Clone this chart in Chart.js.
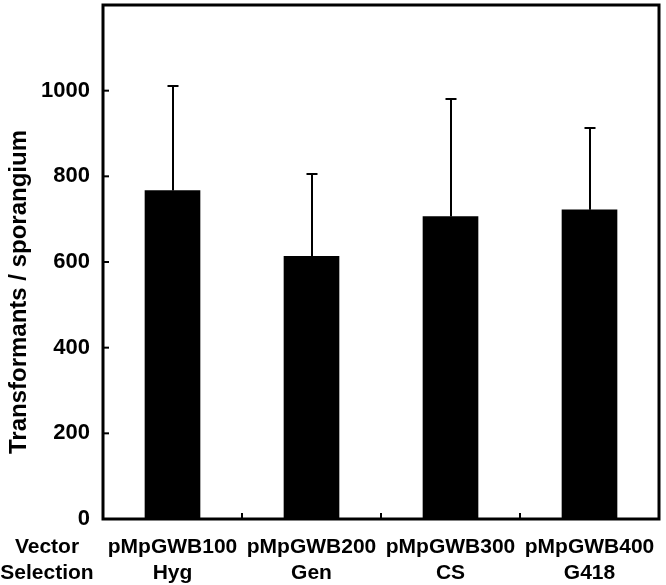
<!DOCTYPE html>
<html>
<head>
<meta charset="utf-8">
<script src="https://cdn.jsdelivr.net/npm/chart.js@4"></script>
<style>
html,body{margin:0;padding:0;background:#fff;}
#wrap{width:666px;height:585px;}
</style>
</head>
<body>
<div id="wrap"><canvas id="c" width="666" height="585"></canvas></div>
<script>
const vectors = ["pMpGWB100", "pMpGWB200", "pMpGWB300", "pMpGWB400"];
const selections = ["Hyg", "Gen", "CS", "G418"];
const means = [767, 613, 706, 722];
const errorTops = [1012, 805, 980, 914];
const rowTitles = ["Vector", "Selection"];
const yTitle = "Transformants / sporangium";
const yTicks = [0, 200, 400, 600, 800, 1000];

const FONT = '"Liberation Sans", Arial, Helvetica, sans-serif';

const extras = {
  id: 'extras',
  afterDatasetsDraw(chart) {
    const ctx = chart.ctx;
    const ca = chart.chartArea;
    const x = chart.scales.x, y = chart.scales.y;
    ctx.save();
    // error bars
    ctx.strokeStyle = '#000';
    ctx.lineWidth = 2;
    const meta = chart.getDatasetMeta(0);
    meta.data.forEach((bar, i) => {
      const cx = Math.round(bar.x);
      const yb = y.getPixelForValue(means[i]);
      const yt = Math.round(y.getPixelForValue(errorTops[i]));
      ctx.beginPath();
      ctx.moveTo(cx, yb);
      ctx.lineTo(cx, yt);
      ctx.moveTo(cx - 5.5, yt);
      ctx.lineTo(cx + 5.5, yt);
      ctx.stroke();
    });
    // frame
    ctx.lineWidth = 3;
    ctx.strokeRect(ca.left, ca.top, ca.right - ca.left, ca.bottom - ca.top);
    // inward y ticks
    ctx.lineWidth = 2;
    yTicks.forEach(v => {
      const py = y.getPixelForValue(v);
      ctx.beginPath();
      ctx.moveTo(ca.left, py);
      ctx.lineTo(ca.left + 6, py);
      ctx.stroke();
    });
    // inward x ticks at category boundaries
    for (let i = 1; i < vectors.length; i++) {
      const px = (x.getPixelForValue(i - 1) + x.getPixelForValue(i)) / 2;
      ctx.beginPath();
      ctx.moveTo(px, ca.bottom);
      ctx.lineTo(px, ca.bottom - 6);
      ctx.stroke();
    }
    // row titles
    ctx.fillStyle = '#000';
    ctx.font = 'bold 21px ' + FONT;
    ctx.textAlign = 'center';
    ctx.textBaseline = 'middle';
    ctx.fillText(rowTitles[0], 47, 547);
    ctx.fillText(rowTitles[1], 47, 573);
    // y title
    ctx.translate(26, 292);
    ctx.rotate(-Math.PI / 2);
    ctx.font = 'bold 24px ' + FONT;
    ctx.textBaseline = 'alphabetic';
    ctx.fillText(yTitle, 0, 0);
    ctx.restore();
  }
};

new Chart(document.getElementById('c'), {
  type: 'bar',
  data: {
    labels: vectors.map((v, i) => [v, selections[i]]),
    datasets: [{
      data: means,
      backgroundColor: '#000',
      borderWidth: 0,
      barThickness: 55
    }]
  },
  options: {
    responsive: false,
    animation: false,
    devicePixelRatio: 1,
    layout: { padding: { top: 5, right: 7, left: 0, bottom: 0 } },
    plugins: { legend: { display: false }, tooltip: { enabled: false } },
    scales: {
      x: {
        grid: { display: false },
        border: { display: false },
        ticks: {
          color: '#000',
          padding: 7,
          maxRotation: 0,
          font: { family: FONT, size: 21, weight: 'bold', lineHeight: 1.25 }
        },
        afterFit(s) { s.height = 66; s.paddingLeft = 0; s.paddingRight = 0; }
      },
      y: {
        min: 0,
        max: 1200,
        grid: { display: false },
        border: { display: false },
        ticks: {
          stepSize: 200,
          color: '#000',
          padding: 5,
          font: { family: FONT, size: 22, weight: 'bold' },
          callback: v => (yTicks.includes(v) ? String(v) : '')
        },
        afterFit(s) { s.width = 103; s.paddingTop = 0; s.paddingBottom = 0; }
      }
    }
  },
  plugins: [extras]
});
</script>
</body>
</html>
